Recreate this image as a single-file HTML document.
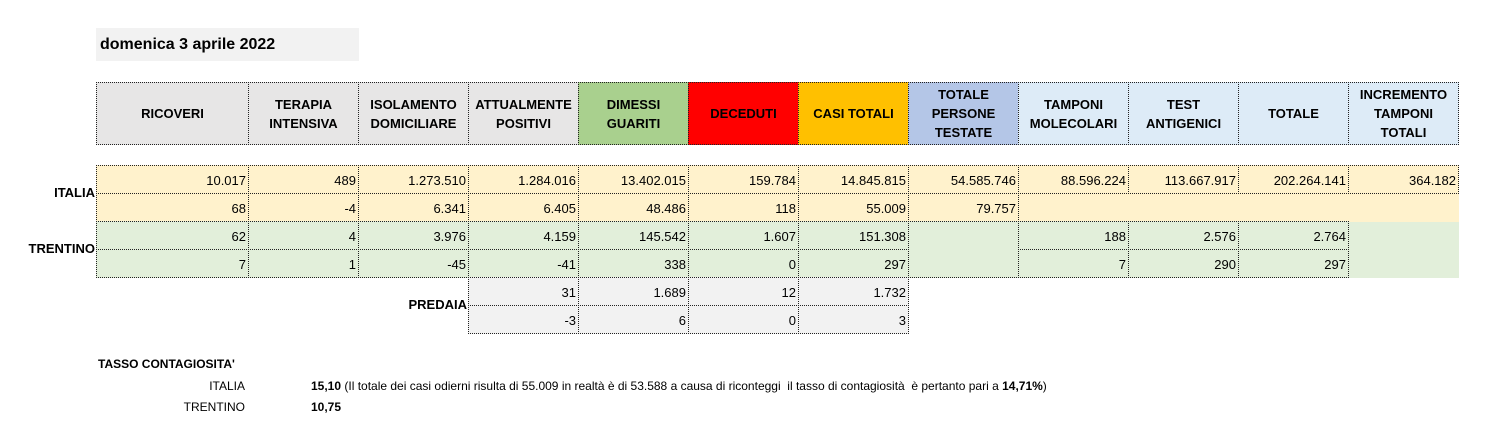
<!DOCTYPE html>
<html><head><meta charset="utf-8">
<style>
html,body{margin:0;padding:0;background:#fff;}
body{width:1489px;height:440px;position:relative;overflow:hidden;font-family:"Liberation Sans",Arial,sans-serif;font-size:13px;color:#000;}
.c{position:absolute;box-sizing:border-box;display:flex;align-items:center;overflow:hidden;white-space:nowrap;}
.b{border:1px dotted #222;}
.h{justify-content:center;text-align:center;font-weight:bold;line-height:19px;white-space:normal;}
.n{justify-content:flex-end;padding-right:2px;padding-top:2px;}
.t{position:absolute;white-space:nowrap;}
</style></head><body>
<div class="t" style="left:96px;top:28px;width:263px;height:33px;background:#f2f2f2;font-weight:bold;font-size:16px;line-height:33px;padding-left:4px;box-sizing:border-box;">domenica 3 aprile 2022</div>
<div class="t" style="right:1394px;top:185px;font-weight:bold;">ITALIA</div>
<div class="t" style="right:1394px;top:241px;font-weight:bold;">TRENTINO</div>
<div class="t" style="right:1022px;top:297px;font-weight:bold;">PREDAIA</div>
<div class="t" style="left:98px;top:357px;font-weight:bold;font-size:12px;">TASSO CONTAGIOSITA'</div>
<div class="t" style="right:1244px;top:379px;font-size:12px;">ITALIA</div>
<div class="t" style="right:1244px;top:400px;font-size:12px;">TRENTINO</div>
<div class="t" style="left:311px;top:379px;font-size:12px;"><b>15,10</b> (Il totale dei casi odierni risulta di 55.009 in realtà è di 53.588 a causa di riconteggi&nbsp; il tasso di contagiosità&nbsp; è pertanto pari a <b>14,71%</b>)</div>
<div class="t" style="left:311px;top:400px;font-size:12px;font-weight:bold;">10,75</div>
<div id="grid"></div>
<script>
const xs=[96,248,358,468,578,688,798,908,1018,1128,1238,1348,1458];
const headers=["RICOVERI","TERAPIA<br>INTENSIVA","ISOLAMENTO<br>DOMICILIARE","ATTUALMENTE<br>POSITIVI","DIMESSI<br>GUARITI","DECEDUTI","CASI TOTALI","TOTALE<br>PERSONE<br>TESTATE","TAMPONI<br>MOLECOLARI","TEST<br>ANTIGENICI","TOTALE","INCREMENTO<br>TAMPONI<br>TOTALI"];
const hbg=["#e7e6e6","#e7e6e6","#e7e6e6","#e7e6e6","#a9d08e","#ff0000","#ffc000","#b4c6e7","#ddebf7","#ddebf7","#ddebf7","#ddebf7"];
const italia1=["10.017","489","1.273.510","1.284.016","13.402.015","159.784","14.845.815","54.585.746","88.596.224","113.667.917","202.264.141","364.182"];
const italia2=["68","-4","6.341","6.405","48.486","118","55.009","79.757"];
const trent1=["62","4","3.976","4.159","145.542","1.607","151.308",null,"188","2.576","2.764"];
const trent2=["7","1","-45","-41","338","0","297",null,"7","290","297"];
const pred1=["31","1.689","12","1.732"];
const pred2=["-3","6","0","3"];
const g=document.getElementById('grid');
function cell(x1,x2,y1,y2,bg,html,cls,name){
  const d=document.createElement('div');
  d.className='c '+cls;
  d.style.left=x1+'px';d.style.top=y1+'px';d.style.width=(x2-x1+1)+'px';d.style.height=(y2-y1+1)+'px';
  d.style.background=bg;d.innerHTML=html;
  
  
  g.appendChild(d);return d;
}
headers.forEach((h,i)=>cell(xs[i],xs[i+1],82,144,hbg[i],h,'b h','header-'+i));
italia1.forEach((v,i)=>cell(xs[i],xs[i+1],165,193,'#fff2cc',v,'b n','italia-total-'+i));
cell(xs[8],xs[12],194,221,'#fff2cc','','','italia-empty');
italia2.forEach((v,i)=>cell(xs[i],xs[i+1],193,221,'#fff2cc',v,'b n','italia-delta-'+i));
cell(xs[11],xs[12],222,277,'#e2efda','','','trentino-empty');
cell(xs[7],xs[8],221,277,'#e2efda','','b','trentino-persone-merged');
trent1.forEach((v,i)=>{if(v!==null)cell(xs[i],xs[i+1],221,249,'#e2efda',v,'b n','trentino-total-'+i);});
trent2.forEach((v,i)=>{if(v!==null)cell(xs[i],xs[i+1],249,277,'#e2efda',v,'b n','trentino-delta-'+i);});
pred1.forEach((v,i)=>cell(xs[i+3],xs[i+4],277,305,'#f2f2f2',v,'b n','predaia-total-'+i));
pred2.forEach((v,i)=>cell(xs[i+3],xs[i+4],305,333,'#f2f2f2',v,'b n','predaia-delta-'+i));
</script>
</body></html>
